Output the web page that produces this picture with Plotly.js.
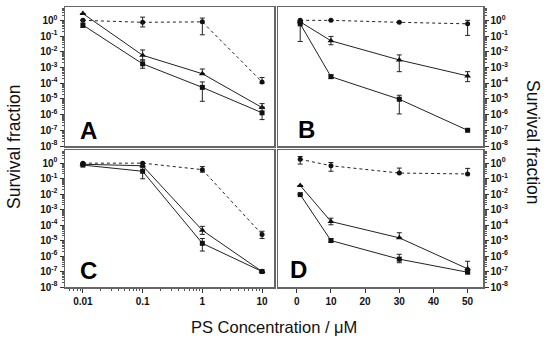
<!DOCTYPE html>
<html><head><meta charset="utf-8">
<script src="https://cdn.plot.ly/plotly-3.0.1.min.js"></script>
<style>body{margin:0;background:#fff}#chart{width:550px;height:344px}</style>
</head><body><div id="chart"></div>
<script>
// x values
const xLog = [0.01, 0.1, 1, 10];
const xLin = [1, 10, 30, 50];
// Panel A
const aCircle = [1.0, 0.75, 0.8, 1.2e-4];
const aCircleHi = [null, 1.6, 1.4, 2.3e-4];
const aCircleLo = [null, 0.38, 0.12, 1.0e-4];
const aTri = [2.7, 6e-3, 4e-4, 2.8e-6];
const aTriHi = [null, 1.3e-2, 8e-4, 5e-6];
const aTriLo = [null, 3e-3, 4e-4, 2.8e-6];
const aSq = [0.5, 1.7e-3, 5.4e-5, 1.3e-6];
const aSqHi = [1.0, 3e-3, 1.2e-4, 3.1e-6];
const aSqLo = [0.35, 8.9e-4, 7e-6, 4.8e-7];
// Panel B
const bCircle = [1.0, 1.0, 0.75, 0.6];
const bCircleHi = [null, null, null, 1.0];
const bCircleLo = [null, null, null, 0.11];
const bTri = [0.8, 0.05, 3e-3, 2.9e-4];
const bTriHi = [null, 0.095, 6.3e-3, 5.4e-4];
const bTriLo = [null, 0.028, 5.4e-4, 1.25e-4];
const bSq = [0.6, 2.6e-4, 9.5e-6, 1e-7];
const bSqHi = [0.8, 3.3e-4, 1.7e-5, null];
const bSqLo = [0.045, 2e-4, 1.1e-6, null];
// Panel C
const cCircle = [1.0, 1.0, 0.38, 2.5e-5];
const cCircleHi = [null, null, 0.6, 4e-5];
const cCircleLo = [null, null, 0.26, 1.35e-5];
const cTri = [0.85, 0.68, 4.6e-5, 1e-7];
const cTriHi = [null, null, 8.3e-5, null];
const cTriLo = [null, null, 2.5e-5, null];
const cSq = [0.75, 0.3, 6.6e-6, 1e-7];
const cSqHi = [null, 0.53, 1.35e-5, null];
const cSqLo = [null, 0.098, 2.1e-6, null];
// Panel D
const dCircle = [1.8, 0.68, 0.23, 0.2];
const dCircleHi = [2.7, 1.1, 0.48, 0.46];
const dCircleLo = [0.87, 0.3, 0.23, 0.2];
const dTri = [0.036, 1.7e-4, 1.5e-5, 1.5e-7];
const dTriHi = [null, 2.8e-4, 3.2e-5, 4.6e-7];
const dTriLo = [null, 1.05e-4, 1.5e-5, 1.5e-7];
const dSq = [9.3e-3, 1e-5, 6.3e-7, 9e-8];
const dSqHi = [null, 1.3e-5, 1.3e-6, null];
const dSqLo = [null, 8e-6, 3.7e-7, null];

const yTickVals = [1, 1e-1, 1e-2, 1e-3, 1e-4, 1e-5, 1e-6, 1e-7, 1e-8];
const yTickText = ['0','-1','-2','-3','-4','-5','-6','-7','-8'].map(e => '10<sup>' + e + '</sup>');
const xLogTickText = ['0.01', '0.1', '1', '10'];

const yMinor = [];
for (let n = -8; n <= 0; n++) for (let k = 2; k <= 9; k++) { const v = k * Math.pow(10, n); if (v < 7) yMinor.push(v); }
const xMinor = [];
for (let n = -3; n <= 1; n++) for (let k = 2; k <= 9; k++) { const v = k * Math.pow(10, n); if (v > 0.005 && v < 15.8) xMinor.push(v); }

function tr(x, y, hi, lo, sym, size, dash, xa, ya) {
  return {
    x: x, y: y, type: 'scatter', mode: 'lines+markers', xaxis: xa, yaxis: ya, showlegend: false,
    line: {color: '#222', width: 1, dash: dash},
    marker: {symbol: sym, size: size, color: '#111'},
    error_y: {type: 'data', symmetric: false, visible: true,
      array: hi.map((h, i) => h == null ? null : h - y[i]),
      arrayminus: lo.map((l, i) => l == null ? null : y[i] - l),
      thickness: 1, width: 2.5, color: '#222'}
  };
}

const data = [
  tr(xLog, aCircle, aCircleHi, aCircleLo, 'circle', 5, 'dot', 'x', 'y'),
  tr(xLog, aTri, aTriHi, aTriLo, 'triangle-up', 6, 'solid', 'x', 'y'),
  tr(xLog, aSq, aSqHi, aSqLo, 'square', 5, 'solid', 'x', 'y'),
  tr(xLin, bCircle, bCircleHi, bCircleLo, 'circle', 5, 'dot', 'x2', 'y2'),
  tr(xLin, bTri, bTriHi, bTriLo, 'triangle-up', 6, 'solid', 'x2', 'y2'),
  tr(xLin, bSq, bSqHi, bSqLo, 'square', 5, 'solid', 'x2', 'y2'),
  tr(xLog, cCircle, cCircleHi, cCircleLo, 'circle', 5, 'dot', 'x3', 'y3'),
  tr(xLog, cTri, cTriHi, cTriLo, 'triangle-up', 6, 'solid', 'x3', 'y3'),
  tr(xLog, cSq, cSqHi, cSqLo, 'square', 5, 'solid', 'x3', 'y3'),
  tr(xLin, dCircle, dCircleHi, dCircleLo, 'circle', 5, 'dot', 'x4', 'y4'),
  tr(xLin, dTri, dTriHi, dTriLo, 'triangle-up', 6, 'solid', 'x4', 'y4'),
  tr(xLin, dSq, dSqHi, dSqLo, 'square', 5, 'solid', 'x4', 'y4')
];

const W = 550, H = 344;
const colL = [65 / W, 274 / W], colR = [278 / W, 483 / W];
const rowT = [1 - 146 / H, 1 - 7 / H], rowB = [1 - 287 / H, 1 - 150 / H];
const frame = {showline: true, mirror: true, linecolor: '#666', linewidth: 1.5, showgrid: false, zeroline: false};
const tickFont = {family: 'Liberation Sans, Arial, sans-serif', size: 10, color: '#111', weight: 'bold'};

function yax(dom, side, anchor) {
  return Object.assign({}, frame, {
    type: 'log', range: [-8, 0.85], domain: dom, anchor: anchor, side: side,
    tickmode: 'array', tickvals: yTickVals, ticktext: yTickText,
    ticks: 'outside', ticklen: 4, tickwidth: 1, tickcolor: '#333', tickfont: tickFont,
    minor: {tickmode: 'array', tickvals: yMinor, ticks: 'outside', ticklen: 2, tickwidth: 1, tickcolor: '#555'}
  });
}
function xlog(dom, anchor, show) {
  return Object.assign({}, frame, {
    type: 'log', range: [-2.3, 1.2], domain: dom, anchor: anchor,
    tickmode: 'array', tickvals: xLog, ticktext: xLogTickText,
    showticklabels: show, ticks: show ? 'outside' : '', ticklen: 4, tickcolor: '#333', tickfont: tickFont,
    minor: show ? {tickmode: 'array', tickvals: xMinor, ticks: 'outside', ticklen: 2, tickcolor: '#555'} : {ticks: ''}
  });
}
function xlin(dom, anchor, show) {
  return Object.assign({}, frame, {
    type: 'linear', range: [-5.5, 54.5], domain: dom, anchor: anchor,
    tickmode: 'linear', tick0: 0, dtick: 10,
    showticklabels: show, ticks: show ? 'outside' : '', ticklen: 4, tickcolor: '#333', tickfont: tickFont
  });
}

const letterFont = {family: 'Liberation Sans, Arial, sans-serif', size: 24, color: '#000', weight: 'bold'};
const titleFont = {family: 'Liberation Sans, Arial, sans-serif', size: 16.5, color: '#111'};
const yTitleFont = {family: 'Liberation Sans, Arial, sans-serif', size: 17.5, color: '#111'};
function ann(text, px, py, font, angle) {
  return {text: text, xref: 'paper', yref: 'paper', x: px / W, y: 1 - py / H, xanchor: 'center', yanchor: 'middle',
    showarrow: false, textangle: angle || 0, font: font};
}

const layout = {
  width: W, height: H, margin: {l: 0, r: 0, t: 0, b: 0},
  paper_bgcolor: '#fff', plot_bgcolor: '#fff', showlegend: false,
  xaxis: xlog(colL, 'y', false),
  yaxis: yax(rowT, 'left', 'x'),
  xaxis2: xlin(colR, 'y2', false),
  yaxis2: yax(rowT, 'right', 'x2'),
  xaxis3: xlog(colL, 'y3', true),
  yaxis3: yax(rowB, 'left', 'x3'),
  xaxis4: xlin(colR, 'y4', true),
  yaxis4: yax(rowB, 'right', 'x4'),
  annotations: [
    ann('A', 88, 130, letterFont),
    ann('B', 306, 129, letterFont),
    ann('C', 88, 270, letterFont),
    ann('D', 298, 269, letterFont),
    ann('Survival fraction', 14, 147, yTitleFont, -90),
    ann('Survival fraction', 533, 142, yTitleFont, 90),
    ann('PS Concentration / \u03bcM', 274, 327, titleFont)
  ]
};

Plotly.newPlot('chart', data, layout, {displayModeBar: false, staticPlot: true});
</script>
</body></html>
